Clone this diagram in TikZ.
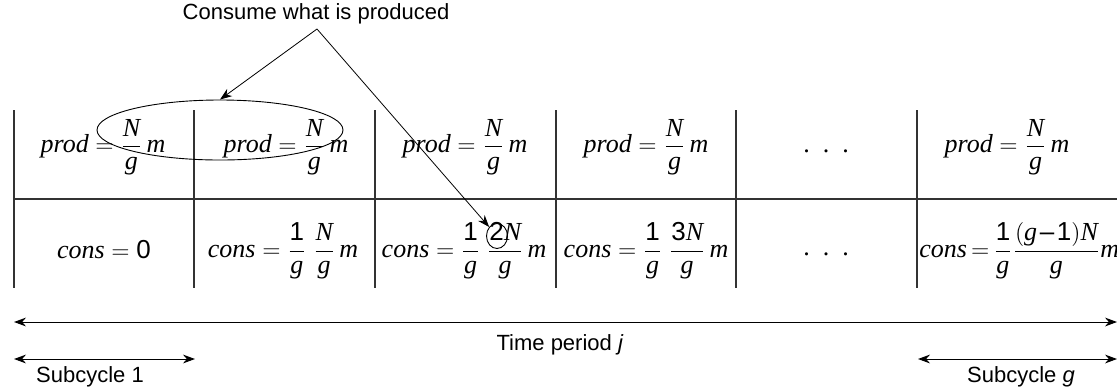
\documentclass[tikz,border=0pt]{standalone}
\usepackage{fontspec}
\usepackage{amsmath}
\setmainfont{Liberation Serif}
\setsansfont{Liberation Sans}
\usetikzlibrary{arrows.meta,shapes.geometric}
\newcommand\V[1]{\textit{#1}}
\newcommand\D[1]{\textsf{#1}}
\newcommand\FNg{\dfrac{\V{N}}{\V{g}}}
\newcommand\Fg{\dfrac{\D{1}}{\V{g}}}
\begin{document}
\begin{tikzpicture}[x=0.5pt,y=-0.5pt,
  grid/.style={line width=0.65pt, draw=black!80},
  eq/.style={font=\fontsize{13}{15}\selectfont, inner sep=0pt},
  lab/.style={font=\sffamily\fontsize{11}{13}\selectfont, inner sep=0pt},
  conn/.style={line width=0.4pt},
  tip/.style={-{Stealth[length=6pt,width=4.4pt]}},
  dtip/.style={{Stealth[length=6pt,width=4.4pt]}-{Stealth[length=6pt,width=4.4pt]}, line width=0.5pt},
  ring/.style={ellipse, draw, line width=0.45pt, inner sep=0pt}]
\useasboundingbox (0,0) rectangle (1117,387);
% table
\foreach \x in {14,194,375,556,736,917} \draw[grid] (\x,110) -- (\x,288);
\draw[grid] (14,199) -- (1117,199);
% top row
\node[eq] (p1) at (103,147) {$\V{prod} = \FNg\,\V{m}$};
\node[eq] (p2) at (286,147) {$\V{prod} = \FNg\,\V{m}$};
\node[eq] (p3) at (465,147) {$\V{prod} = \FNg\,\V{m}$};
\node[eq] (p4) at (646,147) {$\V{prod} = \FNg\,\V{m}$};
\node[eq,anchor=base] (p5) at (826,152) {.\ \ .\ \ .};
\node[eq] (p6) at (1007,147) {$\V{prod} = \FNg\,\V{m}$};
% bottom row
\node[eq] (c1) at (104,250) {$\V{cons} = \D{0}$};
\node[eq] (c2) at (283,251) {$\V{cons} = \Fg\;\FNg\,\V{m}$};
\node[eq] (c3) at (464,251) {$\V{cons} = \Fg\;\dfrac{\D{2}\V{N}}{\V{g}}\,\V{m}$};
\node[eq] (c4) at (646,251) {$\V{cons} = \Fg\;\dfrac{\D{3}\V{N}}{\V{g}}\,\V{m}$};
\node[eq,anchor=base] (c5) at (826,255) {.\ \ .\ \ .};
\node[eq,anchor=west] (c6) at (919,251) {$\V{cons}\mkern3mu{=}\mkern3mu\Fg\dfrac{(\V{g}\mkern2mu\D{–}\mkern2mu\D{1})\V{N}}{\V{g}}\V{m}$};
% highlights
\node[ring, minimum width=10.5pt, minimum height=12.5pt] (two) at (497,236) {};
\node[ring, minimum width=123pt, minimum height=30pt] (ell) at (220,130) {};
% label and connectors
\node[lab] (cwp) at (316,14) {Consume what is produced};
\coordinate (split) at (317,29);
\draw[conn,tip] (split) -- (ell.north);
\draw[conn,tip] (split) -- (two);
% time spans
\coordinate (tL) at (14,322);
\coordinate (tR) at (1117,322);
\draw[dtip] (tL) -- (tR);
\node[lab] (tp) at (560,345) {Time period \textit{j}};
\coordinate (s1L) at (14,359);
\coordinate (s1R) at (195,359);
\draw[dtip] (s1L) -- (s1R);
\node[lab] (s1) at (90,377) {Subcycle 1};
\coordinate (sgL) at (918,359);
\coordinate (sgR) at (1117,359);
\draw[dtip] (sgL) -- (sgR);
\node[lab] (sg) at (1021,377) {Subcycle \textit{g}};
\end{tikzpicture}
\end{document}
